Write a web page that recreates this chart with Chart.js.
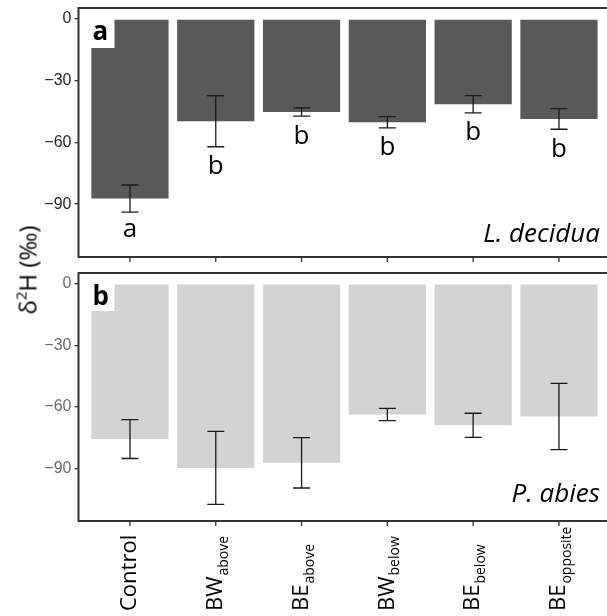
<!doctype html>
<html>
<head>
<meta charset="utf-8">
<title>d2H bars</title>
<script src="https://cdn.jsdelivr.net/npm/chart.js"></script>
<style>
  html, body { margin: 0; padding: 0; background: #fff; overflow: hidden; }
  #wrap { position: relative; width: 607px; height: 616px; }
  #boxA { position: absolute; left: 0; top: 0; width: 607px; height: 265px; }
  #boxB { position: absolute; left: 0; top: 265px; width: 607px; height: 351px; }
  #ytitle {
    position: absolute; left: 27px; top: 270px;
    transform: translate(-50%, -50%) rotate(-90deg);
    font-family: "Open Sans"; font-size: 24px; white-space: nowrap; color: #000;
  }
  #ytitle sup { font-size: 15px; vertical-align: 10px; }
</style>
</head>
<body>
<div id="wrap">
  <div id="boxA"><canvas id="chartA"></canvas></div>
  <div id="boxB"><canvas id="chartB"></canvas></div>
  <div id="ytitle">δ<sup>2</sup>H (‰)</div>
</div>
<script>
const categories = ['Control', 'BW', 'BE', 'BW', 'BE', 'BE'];
const subscripts = ['', 'above', 'above', 'below', 'below', 'opposite'];
const yTicks = [0, -30, -60, -90];

// panel a: L. decidua
const laricMeans = [-87.3, -49.7, -45.2, -50.2, -41.4, -48.6];
const laricErr = [6.6, 12.4, 2.0, 2.7, 4.2, 5.0];
const laricLetters = ['a', 'b', 'b', 'b', 'b', 'b'];

// panel b: P. abies
const spruceMeans = [-75.7, -89.8, -87.3, -63.7, -69.0, -64.7];
const spruceErr = [9.5, 17.8, 12.3, 3.0, 5.9, 16.2];

const panelDeco = {
  id: 'panelDeco',
  afterDraw(chart, args, o) {
    const ctx = chart.ctx;
    const a = chart.chartArea;
    const xs = chart.scales.x, ys = chart.scales.y;
    ctx.save();

    // error bars
    ctx.strokeStyle = '#1a1a1a';
    ctx.lineWidth = 1.3;
    o.means.forEach((m, i) => {
      const x = xs.getPixelForValue(i);
      const y1 = ys.getPixelForValue(m + o.err[i]);
      const y2 = ys.getPixelForValue(m - o.err[i]);
      ctx.beginPath();
      ctx.moveTo(x, y1); ctx.lineTo(x, y2);
      ctx.moveTo(x - 8.5, y1); ctx.lineTo(x + 8.5, y1);
      ctx.moveTo(x - 8.5, y2); ctx.lineTo(x + 8.5, y2);
      ctx.stroke();
    });

    // group letters
    if (o.letters) {
      ctx.fillStyle = '#000';
      ctx.font = '26px "Open Sans"';
      ctx.textAlign = 'center';
      ctx.textBaseline = 'alphabetic';
      o.letters.forEach((t, i) => {
        const x = xs.getPixelForValue(i);
        const yb = ys.getPixelForValue(o.means[i] - o.err[i]) + 18;
        const mt = ctx.measureText(t);
        ctx.fillText(t, x, yb + (mt.actualBoundingBoxAscent - mt.actualBoundingBoxDescent) / 2);
      });
    }

    // panel tag
    ctx.fillStyle = '#fff';
    ctx.fillRect(a.left, a.top, 36, o.tagH);
    ctx.fillStyle = '#000';
    ctx.font = 'bold 26px "Open Sans"';
    ctx.textAlign = 'left';
    ctx.textBaseline = 'alphabetic';
    ctx.fillText(o.tag, a.left + 14, a.top + 32);

    // species
    ctx.font = 'italic 26px "Open Sans"';
    ctx.textAlign = 'right';
    ctx.fillText(o.species, 600, a.bottom - o.speciesOff);

    // frame (right edge falls outside the picture)
    ctx.strokeStyle = '#333';
    ctx.lineWidth = 2;
    ctx.beginPath();
    ctx.moveTo(a.right + 2, a.top); ctx.lineTo(a.left, a.top);
    ctx.lineTo(a.left, a.bottom); ctx.lineTo(a.right + 2, a.bottom);
    ctx.stroke();

    // x ticks
    ctx.lineWidth = 1.3;
    categories.forEach((c, i) => {
      const x = xs.getPixelForValue(i);
      ctx.beginPath();
      ctx.moveTo(x, a.bottom + 1); ctx.lineTo(x, a.bottom + 5);
      ctx.stroke();
    });

    // x labels
    if (o.xLabels) {
      ctx.fillStyle = '#000';
      categories.forEach((c, i) => {
        const x = xs.getPixelForValue(i);
        ctx.save();
        ctx.translate(x, a.bottom + 90);
        ctx.rotate(-Math.PI / 2);
        ctx.textAlign = 'left';
        ctx.textBaseline = 'middle';
        ctx.font = '22px "Open Sans"';
        ctx.fillText(c, 0, 0);
        const w = ctx.measureText(c).width;
        if (subscripts[i]) {
          ctx.font = '14px "Open Sans"';
          ctx.fillText(subscripts[i], w + 1, 8);
        }
        ctx.restore();
      });
    }
    ctx.restore();
  }
};

function makeChart(id, means, color, deco, pad, tickColor) {
  return new Chart(document.getElementById(id), {
    type: 'bar',
    data: {
      datasets: [{
        data: means.map((v, i) => ({ x: i, y: v })),
        backgroundColor: color,
        borderWidth: 0,
        categoryPercentage: 1,
        barPercentage: 0.9
      }]
    },
    options: {
      responsive: true,
      maintainAspectRatio: false,
      animation: false,
      layout: { padding: pad },
      plugins: { legend: { display: false }, tooltip: { enabled: false }, panelDeco: deco },
      scales: {
        x: {
          type: 'linear', min: -0.6, max: 5.56, offset: false, display: false,
          afterBuildTicks: s => { s.ticks = categories.map((c, i) => ({ value: i })); }
        },
        y: {
          min: -115.7, max: 5.35,
          afterBuildTicks: s => { s.ticks = yTicks.map(v => ({ value: v })); },
          afterFit: s => { s.width = 78.5; s.paddingTop = 0; s.paddingBottom = 0; },
          border: { display: false },
          grid: { drawOnChartArea: false, tickLength: 4, color: '#333', lineWidth: 1.3 },
          ticks: {
            padding: 3,
            color: tickColor,
            font: { family: '"Liberation Sans"', size: 16 },
            callback: v => String(v).replace('-', '\u2212')
          }
        }
      }
    },
    plugins: [panelDeco]
  });
}

makeChart('chartA', laricMeans, '#595959',
  { means: laricMeans, err: laricErr, letters: laricLetters, tag: 'a', tagH: 40,
    species: 'L. decidua', speciesOff: 15, xLabels: false },
  { top: 8, bottom: 8, left: 0, right: 0 }, '#262626');

makeChart('chartB', spruceMeans, '#d3d3d3',
  { means: spruceMeans, err: spruceErr, letters: null, tag: 'b', tagH: 38,
    species: 'P. abies', speciesOff: 19, xLabels: true },
  { top: 8, bottom: 95, left: 0, right: 0 }, '#6b6b6b');
</script>
</body>
</html>
